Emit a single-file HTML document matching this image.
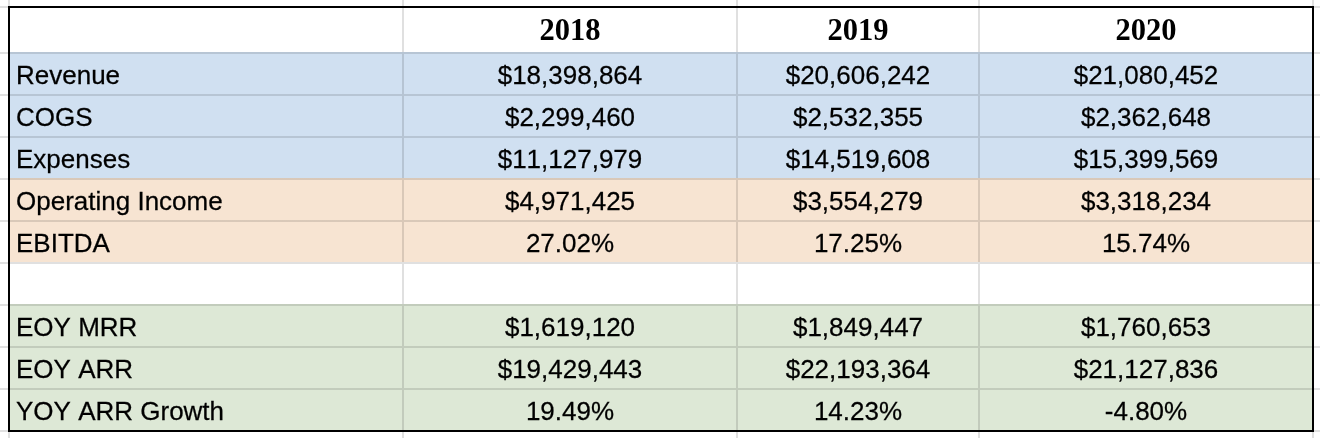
<!DOCTYPE html>
<html><head><meta charset="utf-8"><title>Financials</title>
<style>
html,body{margin:0;padding:0;background:#fff;}
body{--g:rgba(0,0,0,0.12);width:1320px;height:438px;position:relative;overflow:hidden;font-family:"Liberation Sans",sans-serif;color:#000;}
.b{position:absolute;left:8px;width:1306px;}
.h{position:absolute;left:0;width:1320px;height:2px;background:linear-gradient(to right,var(--g) 0 8px,transparent 8px 10px,var(--g) 10px 402px,transparent 402px 404px,var(--g) 404px 736px,transparent 736px 738px,var(--g) 738px 978px,transparent 978px 980px,var(--g) 980px 1312px,transparent 1312px 1314px,var(--g) 1314px 1320px);}
.v{position:absolute;top:0;height:438px;width:2px;background:rgba(0,0,0,0.12);}
.frame{position:absolute;left:8px;top:6px;width:1302px;height:422px;border:2px solid #000;}
.t{position:absolute;font-kerning:none;white-space:nowrap;will-change:transform;transform-origin:50% 30px;transform:scaleY(1.025);-webkit-text-stroke:0.25px #000;font-size:26px;line-height:42px;height:42px;}
.l{left:16px;text-align:left;}
.c{text-align:center;}
.hd{font-family:"Liberation Serif",serif;font-weight:bold;font-size:30.5px;line-height:44px;height:44px;transform:none;-webkit-text-stroke:0;}
</style></head><body>

<div class="b" style="top:8px;height:44px;background:#ffffff"></div>
<div class="b" style="top:52px;height:126px;background:#d0e0f1"></div>
<div class="b" style="top:178px;height:84px;background:#f7e4d2"></div>
<div class="b" style="top:262px;height:42px;background:#ffffff"></div>
<div class="b" style="top:304px;height:126px;background:#dde8d6"></div>
<div class="h" style="top:6px"></div>
<div class="h" style="top:52px"></div>
<div class="h" style="top:94px"></div>
<div class="h" style="top:136px"></div>
<div class="h" style="top:178px"></div>
<div class="h" style="top:220px"></div>
<div class="h" style="top:262px"></div>
<div class="h" style="top:304px"></div>
<div class="h" style="top:346px"></div>
<div class="h" style="top:388px"></div>
<div class="h" style="top:430px"></div>
<div class="v" style="left:8px"></div>
<div class="v" style="left:402px"></div>
<div class="v" style="left:736px"></div>
<div class="v" style="left:978px"></div>
<div class="v" style="left:1312px"></div>
<div class="frame"></div>
<div class="t c hd" style="left:404px;width:332px;top:8px">2018</div>
<div class="t c hd" style="left:738px;width:240px;top:8px">2019</div>
<div class="t c hd" style="left:980px;width:332px;top:8px">2020</div>
<div class="t l" style="top:54px">Revenue</div>
<div class="t c" style="left:404px;width:332px;top:54px">$18,398,864</div>
<div class="t c" style="left:738px;width:240px;top:54px">$20,606,242</div>
<div class="t c" style="left:980px;width:332px;top:54px">$21,080,452</div>
<div class="t l" style="top:96px">COGS</div>
<div class="t c" style="left:404px;width:332px;top:96px">$2,299,460</div>
<div class="t c" style="left:738px;width:240px;top:96px">$2,532,355</div>
<div class="t c" style="left:980px;width:332px;top:96px">$2,362,648</div>
<div class="t l" style="top:138px">Expenses</div>
<div class="t c" style="left:404px;width:332px;top:138px">$11,127,979</div>
<div class="t c" style="left:738px;width:240px;top:138px">$14,519,608</div>
<div class="t c" style="left:980px;width:332px;top:138px">$15,399,569</div>
<div class="t l" style="top:180px">Operating Income</div>
<div class="t c" style="left:404px;width:332px;top:180px">$4,971,425</div>
<div class="t c" style="left:738px;width:240px;top:180px">$3,554,279</div>
<div class="t c" style="left:980px;width:332px;top:180px">$3,318,234</div>
<div class="t l" style="top:222px">EBITDA</div>
<div class="t c" style="left:404px;width:332px;top:222px">27.02%</div>
<div class="t c" style="left:738px;width:240px;top:222px">17.25%</div>
<div class="t c" style="left:980px;width:332px;top:222px">15.74%</div>
<div class="t l" style="top:306px">EOY MRR</div>
<div class="t c" style="left:404px;width:332px;top:306px">$1,619,120</div>
<div class="t c" style="left:738px;width:240px;top:306px">$1,849,447</div>
<div class="t c" style="left:980px;width:332px;top:306px">$1,760,653</div>
<div class="t l" style="top:348px">EOY ARR</div>
<div class="t c" style="left:404px;width:332px;top:348px">$19,429,443</div>
<div class="t c" style="left:738px;width:240px;top:348px">$22,193,364</div>
<div class="t c" style="left:980px;width:332px;top:348px">$21,127,836</div>
<div class="t l" style="top:390px">YOY ARR Growth</div>
<div class="t c" style="left:404px;width:332px;top:390px">19.49%</div>
<div class="t c" style="left:738px;width:240px;top:390px">14.23%</div>
<div class="t c" style="left:980px;width:332px;top:390px">-4.80%</div>
</body></html>
